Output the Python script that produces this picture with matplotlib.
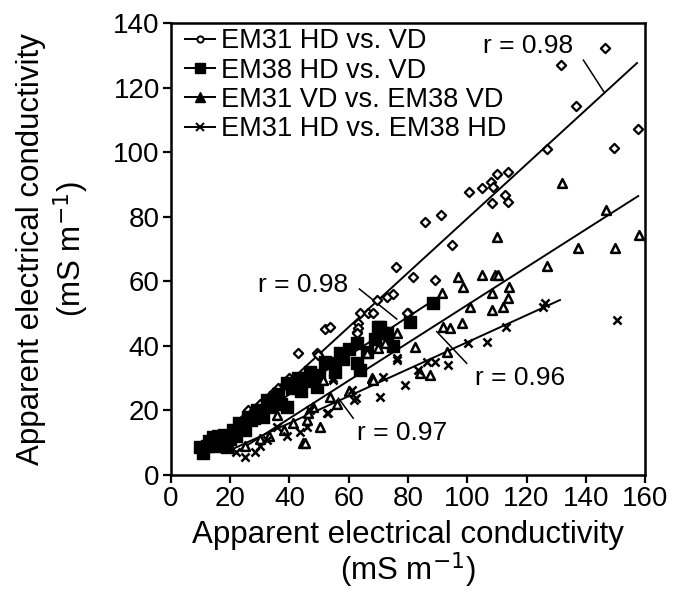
import matplotlib
matplotlib.use("Agg")
import matplotlib.pyplot as plt
from matplotlib.lines import Line2D

plt.rcParams['font.family'] = ['Liberation Sans', 'DejaVu Sans']

# EM31 HD vs VD (open diamonds)
d_x = [12, 14, 16.5, 18, 20, 22, 23.9, 26.1, 28, 30, 32, 34, 36.2, 38, 40, 43, 49.2, 49.7,
       52, 53.7, 62.7, 63, 63.2, 62.7, 63.8, 66.5, 68.2, 69.4, 72.8, 75.1, 79.9, 79.6,
       75.8, 81.8, 85.7, 89.1, 91.1, 94.9, 100.7, 104.9, 107.9, 108.8, 109.9, 113.9,
       112.7, 113.9, 108.2, 127, 131.6, 136.7, 146.5, 149.6, 157.5]
d_y = [9, 10, 9.3, 12, 13, 15, 17, 20.1, 20, 22, 23, 25, 26.8, 28, 30, 37.7, 37.7, 37.2,
       45.1, 45.9, 44.4, 47, 45.4, 43.9, 50.1, 50.2, 50.2, 54.2, 55.2, 56.2, 50.3, 50.1,
       64.5, 61.4, 78.4, 60.4, 80.5, 71.2, 87.7, 89, 90.6, 89.3, 93.1, 93.9,
       86.7, 84.6, 84.3, 101, 127, 114.3, 132.1, 101.2, 107.2]

# EM38 HD vs VD (filled squares)
s_x = [9.8, 10.9, 12, 13, 14.3, 15, 16, 17.6, 19, 21, 22, 23, 24.4, 26, 27, 29, 30,
       32.3, 33, 35, 37, 39, 39, 41, 43, 45.8, 47, 49.2, 50, 52, 54.8, 55.5, 57, 58,
       60, 62.7, 62.7, 63.8, 66, 69, 70, 70.5, 71.7, 72.8, 75, 80.7, 88.4,
       18, 20, 25, 28, 31, 34, 36, 44, 48]
s_y = [8.8, 6.7, 9, 10.5, 11.9, 9, 12, 10.8, 8.8, 13.9, 12, 16, 15.5, 18, 17, 20.1, 19,
       23.2, 21, 24, 22, 28.4, 21.2, 27, 30, 29.9, 32, 27.3, 31, 35, 34.6, 32, 37.7, 36,
       39, 40.8, 34.6, 32.5, 38, 42, 45.9, 45.9, 43.9, 43.9, 40, 47.5, 53.3,
       12.5, 11, 14, 17.5, 18, 22, 25, 26, 29]

# EM31 VD vs EM38 VD (open triangles)
t_x = [25, 30, 33, 35.7, 38, 41.3, 44.7, 45.2, 45.8, 46.4, 48, 50.3, 51.4, 53.7, 56, 60,
       66.1, 67.7, 68.3, 70, 72.2, 76.2, 82.4, 84, 87.4, 91.4, 91.9, 93, 94.2, 97, 98.1,
       98.7, 100.9, 104.9, 108.2, 108.2, 109.4, 109.9, 110.5, 112.2, 113.9, 114.1,
       127, 131.9, 137.3, 146.8, 150, 157.8]
t_y = [9, 11, 12, 18.6, 14, 16, 9.8, 9.8, 17, 19.1, 21, 15, 29.4, 24.2, 22, 26,
       37.7, 29.9, 29.4, 39.2, 40.8, 43.9, 39.7, 31.5, 31, 56.3, 45.9, 38.2, 45.4, 61.4, 47,
       58.3, 52.1, 61.9, 56.3, 51.1, 61.9, 73.6, 61.9, 52.1, 54.7, 58.3,
       64.7, 90.3, 70.4, 82.1, 70.2, 74.3]

# EM31 HD vs EM38 HD (x marks)
x_x = [22, 25, 28.4, 30, 32.3, 35.7, 39, 43.5, 45.8, 46.9, 52.6, 53.1, 54.8, 54.8, 61,
       61.7, 62.3, 70.5, 71.7, 76.2, 76.2, 79, 83.5, 86.3, 89.1, 93.6, 100.4, 106.6,
       113.2, 125.7, 126.2, 150.6]
x_y = [7, 5.7, 7.2, 9, 10.8, 15, 12, 13.4, 15, 20.1, 19.1, 19.1, 29.4, 29.9, 26.3,
       23.2, 23.8, 24.2, 30.4, 36.1, 35.6, 27.9, 32.5, 35.1, 35.1, 34.1, 40.8, 41.3,
       45.9, 52.1, 53.2, 48]

# regression line end points
fit_d_x, fit_d_y = [15, 157.3], [8, 127.6]
fit_s_x, fit_s_y = [10, 88.4], [7, 54]
fit_t_x, fit_t_y = [22, 157.7], [7, 86.4]
fit_x_x, fit_x_y = [20, 131.3], [7.7, 54.2]

labels = ['EM31 HD vs. VD', 'EM38 HD vs. VD', 'EM31 VD vs. EM38 VD', 'EM31 HD vs. EM38 HD']
r_text = ['r = 0.98', 'r = 0.98', 'r = 0.96', 'r = 0.97']
r_pos = [(105.4, 132.9), (29.4, 58.8), (102.6, 30.0), (62.7, 13.0)]
r_lead = [((139.2, 128.5), (146.1, 118.7)),
          ((63.6, 57.6), (76.2, 48.3)),
          ((99.8, 34.6), (89.7, 44.4)),
          ((61.5, 17.6), (56.5, 23.8))]

fig = plt.figure(figsize=(6.75, 5.97), dpi=100)
ax = fig.add_axes([0.2533, 0.2044, 0.7023, 0.7571])

k = dict(color='black', lw=1.4)
ax.plot(fit_d_x, fit_d_y, **k)
ax.plot(fit_s_x, fit_s_y, **k)
ax.plot(fit_t_x, fit_t_y, **k)
ax.plot(fit_x_x, fit_x_y, **k)

ax.scatter(d_x, d_y, marker='D', s=22, facecolors='white', edgecolors='black', linewidths=1.6, zorder=3)
ax.scatter(s_x, s_y, marker='s', s=80, color='black', zorder=3)
ax.scatter(t_x, t_y, marker='^', s=40, facecolors='white', edgecolors='black', linewidths=1.8, zorder=3)
ax.scatter(x_x, x_y, marker='x', s=34, color='black', linewidths=1.8, zorder=3)

for txt, pos, lead in zip(r_text, r_pos, r_lead):
    ax.text(pos[0], pos[1], txt, fontsize=19, va='center', ha='left')
    ax.plot([lead[0][0], lead[1][0]], [lead[0][1], lead[1][1]], color='black', lw=1.1)

handles = [
    Line2D([], [], color='black', lw=1.4, marker='o', ms=4.5, mfc='white', mew=1.4),
    Line2D([], [], color='black', lw=1.4, marker='s', ms=6.5),
    Line2D([], [], color='black', lw=1.4, marker='^', ms=6.5),
    Line2D([], [], color='black', lw=1.4, marker='x', ms=5.5, mew=1.4),
]
ax.legend(handles, labels, loc='upper left', bbox_to_anchor=(-0.01, 1.03), frameon=False,
          fontsize=19.5, handlelength=1.1, handletextpad=0.22, labelspacing=0.12,
          borderaxespad=0.3)

ax.set_xlim(0, 160)
ax.set_ylim(0, 140)
ax.set_xticks(range(0, 161, 20))
ax.set_yticks(range(0, 141, 20))
ax.tick_params(direction='out', length=6, width=1.6, labelsize=20, pad=2)
for sp in ax.spines.values():
    sp.set_linewidth(1.8)

ax.set_xlabel('Apparent electrical conductivity\n(mS m$^{-1}$)', fontsize=22.5, labelpad=6, linespacing=1.0)
ax.set_ylabel('Apparent electrical conductivity\n(mS m$^{-1}$)', fontsize=22.5, labelpad=16, linespacing=1.2)

fig.savefig('out.png', dpi=100)
